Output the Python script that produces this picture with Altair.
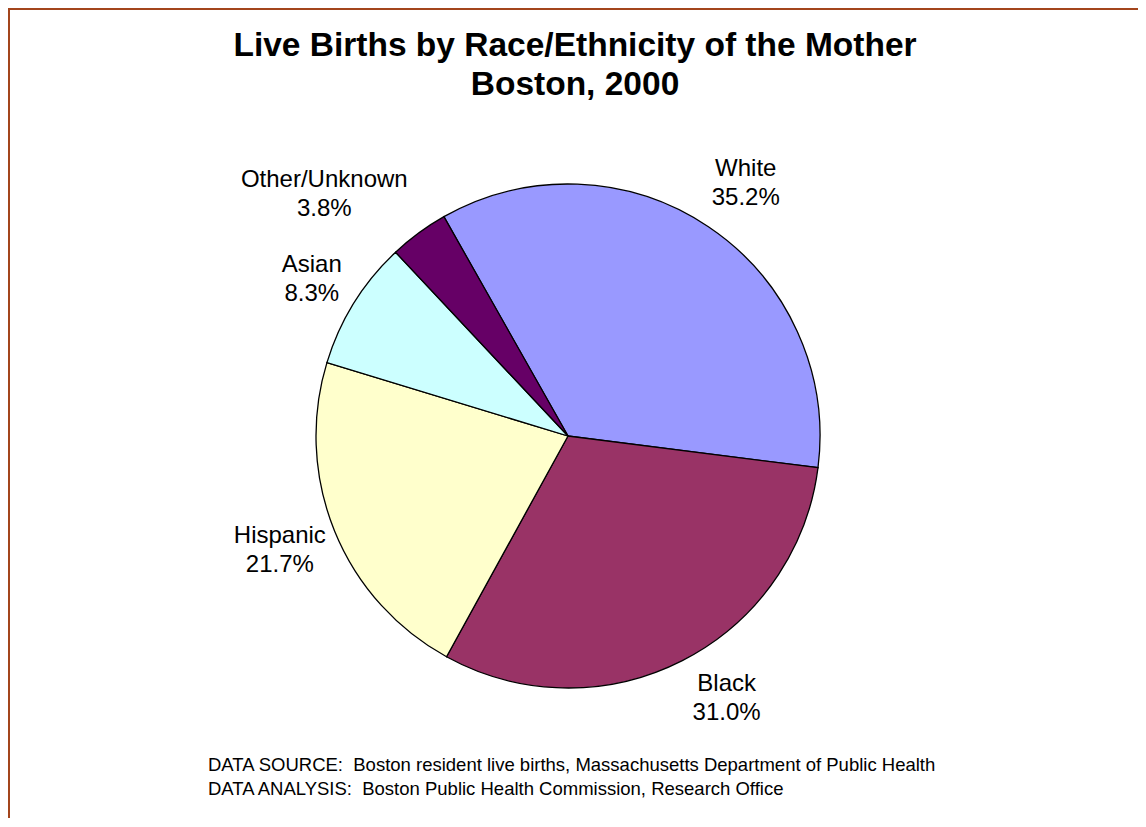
import math
import altair as alt
import pandas as pd

# ---- data ----
categories = ["White", "Black", "Hispanic", "Asian", "Other/Unknown"]
percents = [35.2, 31.0, 21.7, 8.3, 3.8]
colors = ["#9999FF", "#993366", "#FFFFCC", "#CCFFFF", "#660066"]
title_lines = ["Live Births by Race/Ethnicity of the Mother", "Boston, 2000"]
footnotes = [
    "DATA SOURCE:\u00a0 Boston resident live births, Massachusetts Department of Public Health",
    "DATA ANALYSIS:\u00a0 Boston Public Health Commission, Research Office",
]

df = pd.DataFrame({"category": categories, "pct": percents, "order": range(len(categories))})
df["label"] = [f"{c}\n{p:.1f}%" for c, p in zip(categories, percents)]

FONT = "Liberation Sans"
W, H = 1130, 810
OX, OY = 8, 8  # page position of chart origin
CX, CY, R = 568 - OX, 436 - OY, 252
start = 2 * math.pi - math.radians(29.5)
theta_scale = alt.Scale(domain=[0, 100], range=[start, start + 2 * math.pi])
color_scale = alt.Scale(domain=categories, range=colors)

base = alt.Chart(df).transform_window(
    end="sum(pct)", sort=[alt.SortField("order")], frame=[None, 0]
).transform_calculate(
    begin="datum.end - datum.pct", mid="datum.end - datum.pct / 2"
)

pie = base.mark_arc(radius=R, stroke="black", strokeWidth=1.3).encode(
    theta=alt.Theta("begin:Q", scale=theta_scale),
    theta2="end:Q",
    color=alt.Color("category:N", scale=color_scale, legend=None),
    x=alt.value(CX),
    y=alt.value(CY),
)

LH = 29
label_offsets = {
    "White": (5, 5),
    "Black": (18, -14),
    "Hispanic": (-1, -2),
    "Asian": (7, 7),
    "Other/Unknown": (-60, 8),
}
label_layers = []
for cat in categories:
    ddx, ddy = label_offsets[cat]
    label_layers.append(
        base.transform_filter(alt.datum.category == cat).mark_text(
            font=FONT, fontSize=24, lineBreak="\n", lineHeight=LH,
            align="center", baseline="middle", color="black",
            dx=ddx, dy=ddy - LH / 2,
        ).encode(
            theta=alt.Theta("mid:Q", scale=theta_scale),
            radius=alt.value(310),
            text="label:N",
            x=alt.value(CX),
            y=alt.value(CY),
        )
    )

title = alt.Chart(pd.DataFrame({"t": ["\n".join(title_lines)]})).mark_text(
    font=FONT, fontSize=33.5, fontWeight="bold", lineBreak="\n", lineHeight=39,
    align="center", baseline="alphabetic", color="black",
).encode(text="t:N", x=alt.value(575 - OX), y=alt.value(56 - OY))

foot = alt.Chart(pd.DataFrame({"t": ["\n".join(footnotes)]})).mark_text(
    font=FONT, fontSize=18.5, lineBreak="\n", lineHeight=23.5,
    align="left", baseline="alphabetic", color="black",
).encode(text="t:N", x=alt.value(208 - OX), y=alt.value(771 - OY))

border_color = "#A3451C"
one = pd.DataFrame({"a": [0]})
top_rule = alt.Chart(one).mark_rule(color=border_color, strokeWidth=2).encode(
    x=alt.value(0), x2=alt.value(W), y=alt.value(1)
)
left_rule = alt.Chart(one).mark_rule(color=border_color, strokeWidth=2).encode(
    x=alt.value(1), y=alt.value(0), y2=alt.value(H)
)

chart = alt.layer(pie, *label_layers, title, foot, top_rule, left_rule).properties(
    width=W, height=H,
    autosize=alt.AutoSizeParams(type="none"),
    padding=0,
).configure_view(strokeWidth=0).resolve_scale(theta="shared")

chart.save("out.html", embed_options={"renderer": "svg", "actions": False})
